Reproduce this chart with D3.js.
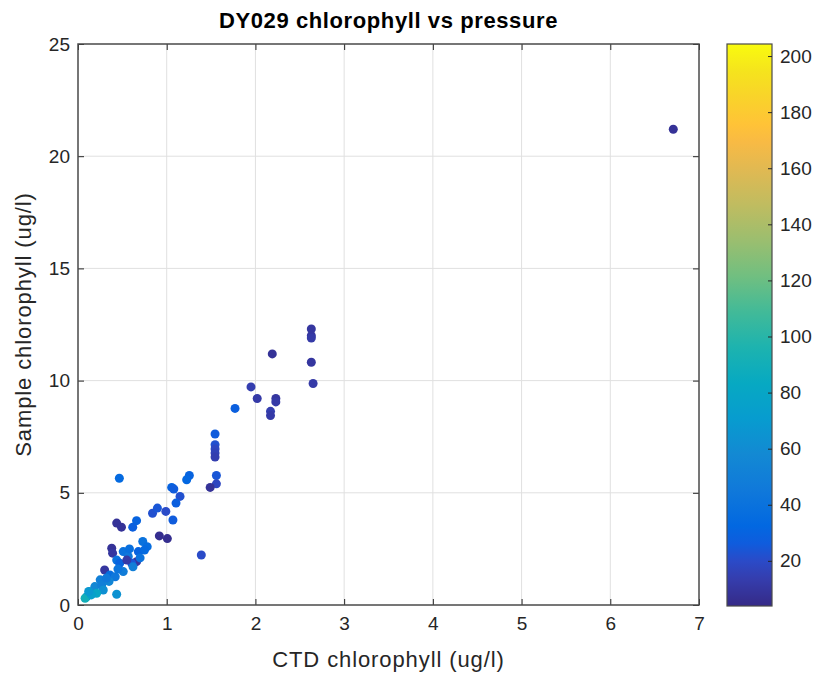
<!DOCTYPE html>
<html>
<head>
<meta charset="utf-8">
<script src="https://cdn.jsdelivr.net/npm/d3@7"></script>
<style>
  body { margin: 0; background: #fff; }
  svg { font-family: "Liberation Sans", Arial, sans-serif; }
</style>
</head>
<body>
<div id="chart"></div>
<script>
"use strict";

// CTD chlorophyll (ug/l), bottle sample chlorophyll (ug/l), pressure (dbar)
var ctdChl = [
  6.71, 2.63, 2.63, 2.63, 2.63, 2.65, 2.19, 1.95, 2.02, 2.23, 2.23, 2.17, 2.17, 1.77,
  1.545, 1.545, 1.545, 1.545, 1.545, 1.56, 1.56, 1.49, 1.255, 1.225, 1.056, 1.08, 1.15,
  0.466, 1.105, 0.84, 0.895, 0.99, 1.07, 0.436, 0.49, 0.617, 0.66, 0.917, 1.007, 1.39,
  0.73, 0.78, 0.68, 0.38, 0.39, 0.51, 0.567, 0.66, 0.605, 0.436, 0.47, 0.30, 0.36, 0.42,
  0.51, 0.25, 0.19, 0.135, 0.098, 0.267, 0.285, 0.436, 0.21, 0.08,
  0.55, 0.70, 0.62, 0.35, 0.15, 0.12, 0.32, 0.45, 0.58, 0.75
];
var sampleChl = [
  21.2, 12.3, 12.0, 11.9, 10.82, 9.87, 11.19, 9.72, 9.20, 9.20, 9.05, 8.63, 8.44, 8.76,
  7.62, 7.14, 6.95, 6.77, 6.59, 5.77, 5.40, 5.24, 5.77, 5.58, 5.24, 5.17, 4.84,
  5.65, 4.54, 4.09, 4.32, 4.17, 3.79, 3.65, 3.47, 3.47, 3.76, 3.08, 2.96, 2.23,
  2.83, 2.60, 2.38, 2.53, 2.31, 2.38, 2.16, 1.93, 1.86, 2.00, 1.86, 1.56, 1.34, 1.26,
  1.49, 1.12, 0.82, 0.59, 0.37, 0.89, 0.67, 0.48, 0.52, 0.30,
  2.00, 2.10, 1.70, 1.05, 0.45, 0.60, 1.20, 1.60, 2.50, 2.45
];
var pressure = [
  8, 10, 10, 12, 10, 12, 8, 14, 12, 10, 12, 14, 12, 28,
  26, 22, 18, 16, 14, 24, 18, 8, 30, 32, 30, 26, 22,
  34, 28, 22, 24, 20, 26, 8, 8, 28, 30, 6, 6, 20,
  40, 36, 30, 8, 10, 40, 44, 10, 24, 40, 30, 10, 36, 44,
  48, 50, 56, 60, 70, 50, 62, 64, 80, 90,
  12, 40, 50, 55, 75, 68, 45, 42, 38, 34
];

var xTicks = [0, 1, 2, 3, 4, 5, 6, 7];
var yTicks = [0, 5, 10, 15, 20, 25];
var cTicks = [20, 40, 60, 80, 100, 120, 140, 160, 180, 200];
var pressureRange = [3.9, 204.3];

// parula colormap, [position in 64-entry table, colour]
var parula = [
  [0, "#352a87"], [3, "#353dad"], [5, "#2b4ac7"], [7, "#0f5cdd"], [9, "#0268e1"],
  [13, "#1079da"], [17, "#1389d3"], [21, "#079ccf"], [25, "#07a9c2"], [29, "#1db3af"],
  [33, "#42ba98"], [37, "#71bf80"], [41, "#9bbe6f"], [45, "#c0bc60"], [49, "#e1b952"],
  [52, "#f8ba44"], [54, "#ffc337"], [57, "#f9d32a"], [60, "#f5e41d"], [63, "#f9fb0e"]
];

var W = 818, H = 676;
var plot = { left: 78, right: 699, top: 44, bottom: 605 };
var cbar = { left: 727, right: 772, top: 44, bottom: 606 };
var axisColor = "#262626";
var frameColor = "#4a4a4a";

var svg = d3.select("#chart").append("svg").attr("width", W).attr("height", H);

var x = d3.scaleLinear().domain([0, 7]).range([plot.left, plot.right]);
var y = d3.scaleLinear().domain([0, 25]).range([plot.bottom, plot.top]);
var c = d3.scaleLinear().domain(pressureRange).range([cbar.bottom, cbar.top]);

var colour = d3.scaleLinear()
  .domain(parula.map(function(d) { return pressureRange[0] + d[0] / 63 * (pressureRange[1] - pressureRange[0]); }))
  .range(parula.map(function(d) { return d[1]; }))
  .interpolate(d3.interpolateRgb)
  .clamp(true);

//grid
var grid = svg.append("g").attr("stroke", "#e0e0e0").attr("stroke-width", 1);
grid.selectAll(".gx").data(xTicks.slice(1, -1)).enter().append("line")
  .attr("x1", function(d) { return x(d); }).attr("x2", function(d) { return x(d); })
  .attr("y1", plot.top).attr("y2", plot.bottom);
grid.selectAll(".gy").data(yTicks.slice(1, -1)).enter().append("line")
  .attr("y1", function(d) { return y(d); }).attr("y2", function(d) { return y(d); })
  .attr("x1", plot.left).attr("x2", plot.right);

//points
var points = ctdChl.map(function(v, i) { return { x: v, y: sampleChl[i], p: pressure[i] }; });
svg.append("g").selectAll("circle").data(points).enter().append("circle")
  .attr("cx", function(d) { return x(d.x); })
  .attr("cy", function(d) { return y(d.y); })
  .attr("r", 4.5)
  .attr("fill", function(d) { return colour(d.p); });

//axes with inward ticks on all four sides
function styleAxis(g) {
  g.select(".domain").remove();
  g.selectAll(".tick line").attr("stroke", axisColor);
  g.selectAll(".tick text").attr("fill", axisColor).attr("font-size", 19);
}

svg.append("g").attr("transform", "translate(0," + plot.bottom + ")")
  .call(d3.axisBottom(x).tickValues(xTicks).tickFormat(d3.format("d"))
    .tickSizeInner(-6).tickSizeOuter(0).tickPadding(12))
  .call(styleAxis);
svg.append("g").attr("transform", "translate(0," + plot.top + ")")
  .call(d3.axisTop(x).tickValues(xTicks).tickSizeInner(-6).tickSizeOuter(0).tickFormat(""))
  .call(styleAxis);
svg.append("g").attr("transform", "translate(" + plot.left + ",0)")
  .call(d3.axisLeft(y).tickValues(yTicks).tickSizeInner(-6).tickSizeOuter(0).tickPadding(8))
  .call(styleAxis);
svg.append("g").attr("transform", "translate(" + plot.right + ",0)")
  .call(d3.axisRight(y).tickValues(yTicks).tickSizeInner(-6).tickSizeOuter(0).tickFormat(""))
  .call(styleAxis);

svg.append("rect")
  .attr("x", plot.left).attr("y", plot.top)
  .attr("width", plot.right - plot.left).attr("height", plot.bottom - plot.top)
  .attr("fill", "none").attr("stroke", frameColor).attr("stroke-width", 1.5);

//colorbar
var defs = svg.append("defs");
var grad = defs.append("linearGradient").attr("id", "parula")
  .attr("x1", 0).attr("y1", 1).attr("x2", 0).attr("y2", 0);
grad.selectAll("stop").data(parula).enter().append("stop")
  .attr("offset", function(d) { return d[0] / 63; })
  .attr("stop-color", function(d) { return d[1]; });

svg.append("rect")
  .attr("x", cbar.left).attr("y", cbar.top)
  .attr("width", cbar.right - cbar.left).attr("height", cbar.bottom - cbar.top)
  .attr("fill", "url(#parula)").attr("stroke", frameColor).attr("stroke-width", 1.2);

svg.append("g").attr("transform", "translate(" + cbar.right + ",0)")
  .call(d3.axisRight(c).tickValues(cTicks).tickSizeInner(-4).tickSizeOuter(0).tickPadding(8))
  .call(styleAxis);

//labels
svg.append("text").text("DY029 chlorophyll vs pressure")
  .attr("x", (plot.left + plot.right) / 2).attr("y", 28)
  .attr("text-anchor", "middle").attr("font-size", 22).attr("font-weight", "bold")
  .attr("letter-spacing", 0.6).attr("fill", "#000");

svg.append("text").text("CTD chlorophyll (ug/l)")
  .attr("x", (plot.left + plot.right) / 2).attr("y", 667)
  .attr("text-anchor", "middle").attr("font-size", 22).attr("letter-spacing", 0.9)
  .attr("fill", axisColor);

svg.append("text").text("Sample chlorophyll (ug/l)")
  .attr("transform", "translate(31," + (plot.top + plot.bottom) / 2 + ") rotate(-90)")
  .attr("text-anchor", "middle").attr("font-size", 22).attr("letter-spacing", 0.9)
  .attr("fill", axisColor);
</script>
</body>
</html>
